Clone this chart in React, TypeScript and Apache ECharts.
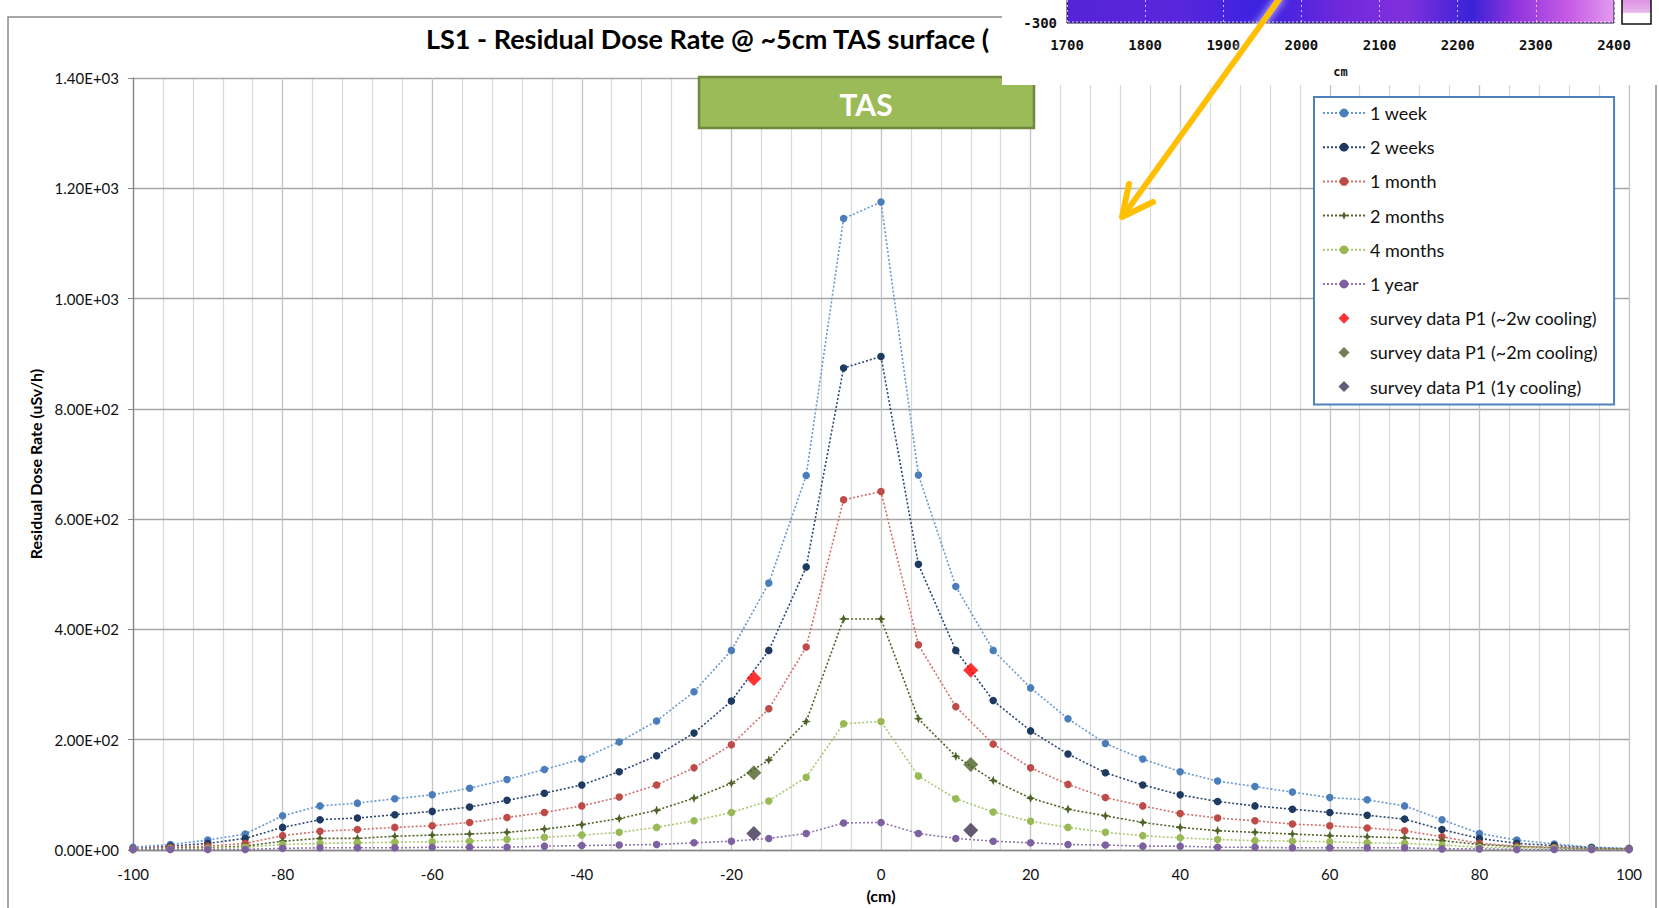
import React, { useEffect, useRef } from "react";
import * as echarts from "echarts";

// Distance from the TAS centre (cm)
const positions = [
  -100, -95, -90, -85, -80, -75, -70, -65, -60, -55, -50, -45, -40, -35, -30, -25, -20, -15, -10, -5,
  0, 5, 10, 15, 20, 25, 30, 35, 40, 45, 50, 55, 60, 65, 70, 75, 80, 85, 90, 95, 100,
];

// Simulated residual dose rate (uSv/h) per cooling time
const week1 = [
  5, 10, 18, 29, 62, 80, 85, 93, 100, 112, 128, 146, 165, 196, 234, 287, 362, 484, 679, 1145,
  1175, 680, 478, 362, 294, 238, 193, 165, 142, 125, 115, 105, 95, 91, 80, 55, 30, 18, 11, 5, 3,
];
const weeks2 = [
  2, 7, 12, 21, 41, 55, 58, 64, 70, 78, 90, 103, 118, 142, 171, 212, 270, 362, 513, 874,
  895, 518, 362, 271, 216, 174, 140, 118, 100, 88, 80, 74, 68, 63, 56, 37, 21, 12, 8, 4, 2,
];
const month1 = [
  2, 5, 7, 12, 26, 34, 37, 41, 44, 50, 59, 68, 80, 96, 118, 149, 191, 256, 368, 635,
  650, 372, 260, 192, 149, 119, 95, 80, 66, 58, 53, 47, 44, 40, 35, 24, 12, 7, 5, 2, 2,
];
const months2 = [
  1, 3, 4, 7, 16, 21, 21, 25, 27, 29, 32, 38, 46, 57, 72, 94, 121, 163, 233, 419,
  419, 238, 170, 126, 94, 74, 62, 50, 41, 35, 32, 29, 26, 24, 22, 17, 10, 6, 4, 2, 2,
];
const months4 = [
  1, 2, 3, 5, 10, 12, 13, 14, 15, 16, 19, 23, 27, 32, 41, 53, 68, 89, 132, 229,
  233, 134, 93, 69, 52, 41, 32, 26, 22, 19, 17, 16, 15, 13, 12, 9, 5, 4, 3, 2, 1,
];
const year1 = [
  1, 1, 1, 1, 3, 4, 4, 4, 5, 5, 5, 7, 8, 9, 10, 13, 16, 21, 30, 49,
  50, 30, 21, 16, 13, 10, 9, 7, 7, 5, 5, 4, 4, 4, 4, 2, 2, 1, 1, 1, 1,
];

// Survey measurements at point P1: [position cm, dose rate uSv/h]
const survey2w = [[-17, 311], [12, 326]];
const survey2m = [[-17, 140], [12, 155]];
const survey1y = [[-17, 30], [12, 36]];

// Inset map axis ticks (cm)
const insetTicks = [1700, 1800, 1900, 2000, 2100, 2200, 2300, 2400];
const insetYLabel = -300;

const FONT = "Lato, 'Noto Sans', sans-serif";
const MONO = "'DejaVu Sans Mono', monospace";

const sci = (v: number) => {
  if (v === 0) return "0.00E+00";
  const e = Math.floor(Math.log10(Math.abs(v)));
  const m = v / Math.pow(10, e);
  return m.toFixed(2) + "E" + (e >= 0 ? "+" : "-") + String(Math.abs(e)).padStart(2, "0");
};

const star4 = "path://M0,-10 L2.8,-2.8 L10,0 L2.8,2.8 L0,10 L-2.8,2.8 L-10,0 L-2.8,-2.8 Z";
const diamond = "path://M0,-10 L10,0 L0,10 L-10,0 Z";

const lineSeries = (name: string, values: number[], color: string, lineColor: string, symbol = "circle", size = 7.5) => ({
  type: "line",
  name,
  data: positions.map((x, i) => [x, values[i]]),
  symbol,
  symbolSize: size,
  showSymbol: true,
  itemStyle: { color },
  lineStyle: { color: lineColor, width: 1.6, type: [2, 2] },
  emphasis: { disabled: true },
});

const surveySeries = (name: string, data: number[][], color: string) => ({
  type: "scatter",
  name,
  data,
  symbol: diamond,
  symbolKeepAspect: true,
  symbolSize: 15,
  itemStyle: { color },
  z: 5,
  emphasis: { disabled: true },
});

export default function App() {
  const ref = useRef<HTMLDivElement>(null);

  useEffect(() => {
    if (!ref.current) return;
    const chart = echarts.init(ref.current, undefined, { renderer: "svg" });

    const option: any = {
      animation: false,
      backgroundColor: "#ffffff",
      textStyle: { fontFamily: FONT },
      title: {
        text: "LS1 - Residual Dose Rate @ ~5cm TAS surface (",
        left: 421,
        top: 20,
        textStyle: { fontFamily: FONT, fontSize: 27, fontWeight: "bold", color: "#000" },
      },
      grid: [
        { left: 133, right: 30, top: 78, bottom: 58 },
        { left: 1067, width: 547, top: 0, height: 23, show: false },
      ],
      xAxis: [
        {
          type: "value",
          min: -100,
          max: 100,
          interval: 20,
          name: "(cm)",
          nameLocation: "middle",
          nameGap: 37,
          nameTextStyle: { fontFamily: FONT, fontSize: 16, fontWeight: "bold", color: "#000" },
          axisLine: { show: true, onZero: false, lineStyle: { color: "#868686", width: 1.3 } },
          axisTick: { show: false },
          axisLabel: { fontFamily: FONT, fontSize: 15, color: "#111", margin: 16 },
          splitLine: { show: true, lineStyle: { color: "#C4C4C4", width: 1.2 } },
        },
        {
          type: "value",
          gridIndex: 1,
          min: 1700,
          max: 2400,
          interval: 100,
          z: 60,
          name: "cm",
          nameLocation: "middle",
          nameGap: 43,
          nameTextStyle: { fontFamily: MONO, fontSize: 12, fontWeight: "bold", color: "#111" },
          axisLine: { show: false },
          axisTick: { show: false },
          axisLabel: {
            fontFamily: MONO,
            fontSize: 14,
            fontWeight: "bold",
            color: "#111",
            margin: 15,
            showMinLabel: true,
            showMaxLabel: true,
            formatter: (v: number) => (insetTicks.includes(v) ? String(v) : ""),
          },
          splitLine: { show: true, lineStyle: { color: "rgba(255,255,255,0.7)", width: 1, type: [2, 3] } },
        },
        // minor vertical gridlines every 4 cm
        {
          type: "value",
          gridIndex: 0,
          min: -100,
          max: 100,
          interval: 4,
          z: -1,
          axisLine: { show: false },
          axisTick: { show: false },
          axisLabel: { show: false },
          splitLine: { show: true, lineStyle: { color: "#D9D9D9", width: 1.2 } },
        },
      ],
      yAxis: [
        {
          type: "value",
          min: 0,
          max: 1400,
          interval: 200,
          name: "Residual Dose Rate (uSv/h)",
          nameLocation: "middle",
          nameRotate: 90,
          nameGap: 81,
          nameTextStyle: { fontFamily: FONT, fontSize: 16, fontWeight: "bold", color: "#000" },
          axisLine: { show: true, onZero: false, lineStyle: { color: "#868686", width: 1.3 } },
          axisTick: { show: true, length: 5, lineStyle: { color: "#868686" } },
          axisLabel: { fontFamily: FONT, fontSize: 15, color: "#111", margin: 14, formatter: sci },
          splitLine: { show: true, lineStyle: { color: "#A6A6A6", width: 1.3 } },
        },
        {
          type: "value",
          gridIndex: 1,
          min: -300,
          max: 0,
          interval: 300,
          z: 60,
          axisLine: { show: false },
          axisTick: { show: false },
          splitLine: { show: false },
          axisLabel: {
            fontFamily: MONO,
            fontSize: 14,
            fontWeight: "bold",
            color: "#111",
            margin: 10,
            formatter: (v: number) => (v === insetYLabel ? String(v) : ""),
          },
        },
      ],
      legend: {
        orient: "vertical",
        left: 1314,
        top: 97,
        padding: [6, 16, 8, 8],
        backgroundColor: "#ffffff",
        borderColor: "#4F81BD",
        borderWidth: 2,
        itemWidth: 42,
        itemHeight: 11,
        itemGap: 14.2,
        textStyle: { fontFamily: FONT, fontSize: 18, color: "#111", lineHeight: 20 },
        data: [
          "1 week",
          "2 weeks",
          "1 month",
          "2 months",
          "4 months",
          "1 year",
          "survey data P1 (~2w cooling)",
          "survey data P1 (~2m cooling)",
          "survey data P1 (1y cooling)",
        ],
      },
      series: [
        lineSeries("1 week", week1, "#4A7EBB", "#6A98D0"),
        lineSeries("2 weeks", weeks2, "#1F3A60", "#2C4770"),
        lineSeries("1 month", month1, "#BE4B48", "#D0706D"),
        lineSeries("2 months", months2, "#4F6228", "#4F6228", star4, 9.5),
        lineSeries("4 months", months4, "#98B954", "#A9C670"),
        lineSeries("1 year", year1, "#7D60A0", "#8E77AE"),
        surveySeries("survey data P1 (~2w cooling)", survey2w, "#FF0000"),
        surveySeries("survey data P1 (~2m cooling)", survey2m, "#4F6228"),
        surveySeries("survey data P1 (1y cooling)", survey1y, "#3F3151"),
      ],
      graphic: [
        // chart area frame
        {
          type: "rect",
          z: 1,
          silent: true,
          shape: { x: 8, y: 17, width: 1648, height: 920 },
          style: { fill: "none", stroke: "#8C8C8C", lineWidth: 1.5 },
        },
        // TAS label box
        {
          type: "rect",
          z: 40,
          shape: { x: 699, y: 77, width: 335, height: 51 },
          style: { fill: "#9BBB59", stroke: "#71893F", lineWidth: 2.5 },
        },
        {
          type: "text",
          z: 41,
          x: 866,
          y: 104,
          style: {
            text: "TAS",
            fill: "#ffffff",
            font: `bold 30px ${FONT}`,
            textAlign: "center",
            textVerticalAlign: "middle",
          },
        },
        // inset map backdrop
        {
          type: "rect",
          z: 50,
          shape: { x: 1002, y: 0, width: 660, height: 85 },
          style: { fill: "#ffffff" },
        },
        {
          type: "rect",
          z: 55,
          shape: { x: 1067, y: -2, width: 547, height: 25 },
          style: {
            fill: new echarts.graphic.LinearGradient(0, 0, 1, 0, [
              { offset: 0, color: "#5523D8" },
              { offset: 0.2, color: "#5A26DC" },
              { offset: 0.36, color: "#3A22E0" },
              { offset: 0.5, color: "#7028DC" },
              { offset: 0.62, color: "#8030DD" },
              { offset: 0.74, color: "#3A22D6" },
              { offset: 0.82, color: "#9034DE" },
              { offset: 0.92, color: "#C85CE6" },
              { offset: 1, color: "#E49AF0" },
            ]),
            stroke: "#1a1a40",
            lineWidth: 1,
          },
        },
        {
          type: "line",
          z: 58,
          shape: { x1: 1068, y1: 22, x2: 1613, y2: 22 },
          style: { stroke: "rgba(255,255,255,0.8)", lineWidth: 1, lineDash: [2, 2] },
        },
        // colour bar
        {
          type: "rect",
          z: 55,
          shape: { x: 1622, y: -2, width: 29, height: 26 },
          style: {
            fill: new echarts.graphic.LinearGradient(0, 0, 0, 1, [
              { offset: 0, color: "#D98CE0" },
              { offset: 0.55, color: "#E9B8EC" },
              { offset: 0.6, color: "#FFFFFF" },
              { offset: 1, color: "#FFFFFF" },
            ]),
            stroke: "#111",
            lineWidth: 1.5,
          },
        },
        // arrow pointing from the map down into the plot
        {
          type: "polyline",
          z: 70,
          shape: { points: [[1280, -2], [1123, 216]] },
          style: {
            stroke: "#FFC000",
            lineWidth: 6,
            lineCap: "round",
            shadowBlur: 8,
            shadowColor: "rgba(255,255,255,0.9)",
          },
        },
        {
          type: "polyline",
          z: 70,
          shape: { points: [[1129, 184], [1122, 217], [1153, 202]] },
          style: { stroke: "#FFC000", lineWidth: 6, lineCap: "round", lineJoin: "round", fill: "none" },
        },
      ],
    };

    chart.setOption(option);
    return () => chart.dispose();
  }, []);

  return (
    <div
      ref={ref}
      style={{ position: "fixed", left: 0, top: 0, width: 1659, height: 908, background: "#fff" }}
    />
  );
}
